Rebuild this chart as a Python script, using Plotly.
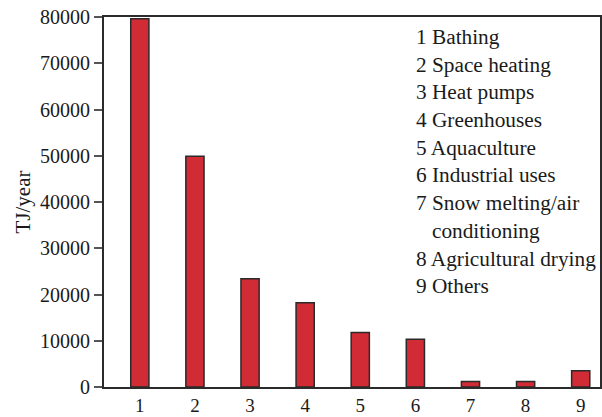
import plotly.graph_objects as go

categories = [1, 2, 3, 4, 5, 6, 7, 8, 9]
values = [79600, 49900, 23400, 18200, 11800, 10300, 1200, 1200, 3500]
y_ticks = [0, 10000, 20000, 30000, 40000, 50000, 60000, 70000, 80000]
legend_lines = [
    "1 Bathing",
    "2 Space heating",
    "3 Heat pumps",
    "4 Greenhouses",
    "5 Aquaculture",
    "6 Industrial uses",
    "7 Snow melting/air",
    "&nbsp;&nbsp;&nbsp;conditioning",
    "8 Agricultural drying",
    "9 Others",
]

FONT = "Liberation Serif"
AX = "#2b2b2b"

fig = go.Figure()
fig.add_trace(go.Bar(
    x=categories, y=values, width=0.33,
    marker=dict(color="#d12b35", line=dict(color="#2a2a2a", width=1.5)),
))

fig.add_annotation(
    text="<br>".join(legend_lines),
    xref="paper", yref="paper", x=0.625, y=0.985,
    xanchor="left", yanchor="top", align="left", showarrow=False,
    font=dict(family=FONT, size=21.3, color="#1a1a1a"),
)

fig.update_layout(
    width=602, height=417,
    margin=dict(l=104, r=2, t=17, b=30),
    paper_bgcolor="white", plot_bgcolor="white",
    showlegend=False,
    font=dict(family=FONT, size=20, color="#1a1a1a"),
)
fig.update_xaxes(
    range=[0.35, 9.35], tickvals=categories, ticktext=[str(c) for c in categories],
    showgrid=False, zeroline=False, showline=True, linecolor=AX, linewidth=2,
    mirror=True, ticks="", tickfont=dict(family=FONT, size=19),
    automargin=False,
)
fig.update_yaxes(
    range=[0, 80000], tickvals=y_ticks, ticktext=[str(v) for v in y_ticks],
    showgrid=False, zeroline=False, showline=True, linecolor=AX, linewidth=2,
    mirror=True, ticks="outside", ticklen=8, tickwidth=1.5, tickcolor="#555",
    tickfont=dict(family=FONT, size=20), automargin=False,
    title=dict(text="TJ/year", font=dict(family=FONT, size=21), standoff=4),
)

fig.write_html("out.html")
